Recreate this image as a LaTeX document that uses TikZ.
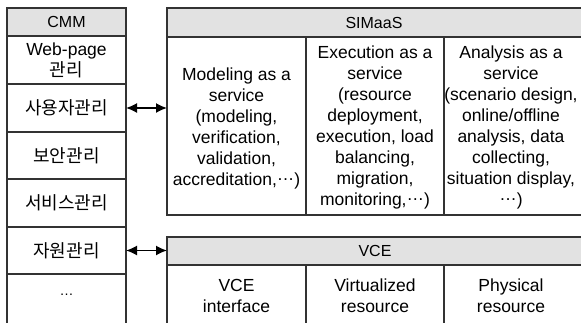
\documentclass[tikz,border=0pt]{standalone}
\usepackage{fontspec}
\setmainfont{Liberation Sans}
\newfontfamily\kr{Noto Sans CJK KR}
\usetikzlibrary{arrows.meta}
\definecolor{linec}{HTML}{333333}
\definecolor{headc}{HTML}{E2E2E2}
\newcommand{\mdots}{\raisebox{0.28em}{…}}
\begin{document}
\begin{tikzpicture}[x=1pt,y=-1pt,
  cell/.style={draw=linec, line width=1.1pt, inner sep=0pt, outer sep=0pt, align=center,
    font=\fontsize{17.5}{21}\selectfont},
  head/.style={cell, fill=headc, font=\fontsize{16}{20}\selectfont},
  krt/.style={cell, font=\fontsize{18}{20}\selectfont\kr},
  txt/.style={inner sep=0pt, align=center, font=\fontsize{17.5}{21}\selectfont},
  dbl/.style={{Latex[length=11pt,width=10pt]}-{Latex[length=11pt,width=10pt]}, line width=1.6pt, draw=black}]
\useasboundingbox (0,0) rectangle (581,322);
% CMM column
\node[head, minimum width=119pt, minimum height=28pt] (cmm) at (66.5,22) {CMM};
\node[cell, minimum width=119pt, minimum height=48pt] (r1) at (66.5,60) {Web-page\\{\fontsize{18}{21}\selectfont\kr 관리}};
\node[krt, minimum width=119pt, minimum height=48pt] (r2) at (66.5,108) {사용자관리};
\node[krt, minimum width=119pt, minimum height=47pt] (r3) at (66.5,155.5) {보안관리};
\node[krt, minimum width=119pt, minimum height=48pt] (r4) at (66.5,203) {서비스관리};
\node[krt, minimum width=119pt, minimum height=47pt] (r5) at (66.5,250.5) {자원관리};
\node[cell, minimum width=119pt, minimum height=60pt] (r6) at (66.5,304) {};
\node[txt, font=\fontsize{14}{16}\selectfont] (r6t) at (66.5,297) {\mdots};
% SIMaaS
\node[head, minimum width=416pt, minimum height=29pt] (sim) at (375,22.5) {\hspace*{-2pt}SIMaaS};
\node[cell, minimum width=139pt, minimum height=178pt] (c1) at (236.5,126) {};
\node[cell, minimum width=138pt, minimum height=178pt] (c2) at (375,126) {};
\node[cell, minimum width=139pt, minimum height=178pt] (c3) at (513.5,126) {};
\node[txt] (t1) at (236.5,128) {Modeling as a\\service\\(modeling,\\verification,\\validation,\\accreditation,\mdots)};
\node[txt] (t2) at (375,127) {Execution as a\\service\\(resource\\deployment,\\execution, load\\balancing,\\migration,\\monitoring,\mdots)};
\node[txt] (t3) at (511,127) {Analysis as a\\service\\(scenario design,\\online/offline\\analysis, data\\collecting,\\situation display,\\\mdots)};
% VCE
\node[head, minimum width=416pt, minimum height=28pt] (vce) at (375,251) {VCE};
\node[cell, minimum width=139pt, minimum height=69pt] (v1) at (236.5,299.5) {};
\node[cell, minimum width=138pt, minimum height=69pt] (v2) at (375,299.5) {};
\node[cell, minimum width=139pt, minimum height=69pt] (v3) at (513.5,299.5) {};
\node[txt] (vt1) at (236.5,296) {VCE\\interface};
\node[txt] (vt2) at (375,296) {Virtualized\\resource};
\node[txt] (vt3) at (511,296) {Physical\\resource};
% arrows
\draw[dbl] (r2.east) -- (r2.east -| c1.west);
\draw[dbl] (r5.east) -- (r5.east -| vce.west);
\end{tikzpicture}
\end{document}
